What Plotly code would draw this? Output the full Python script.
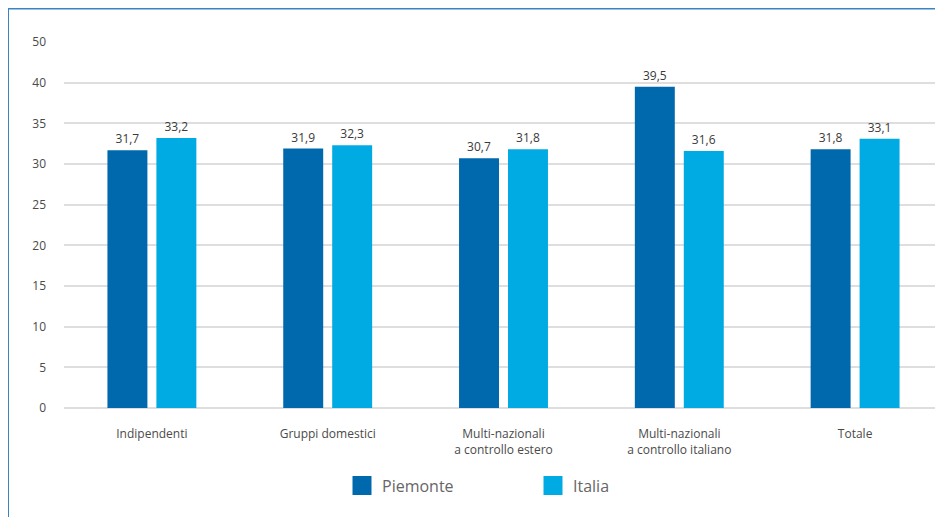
import plotly.graph_objects as go

categories = ["Indipendenti", "Gruppi domestici", "Multi-nazionali<br>a controllo estero",
              "Multi-nazionali<br>a controllo italiano", "Totale"]
piemonte = [31.7, 31.9, 30.7, 39.5, 31.8]
italia = [33.2, 32.3, 31.8, 31.6, 33.1]
series_names = ["Piemonte", "Italia"]
series_colors = ["#0068AC", "#00ABE3"]
y_tickvals = [0, 5, 10, 15, 20, 25, 30, 35, 40, 45]
y_ticktext = ["0", "5", "10", "15", "20", "25", "30", "35", "40", "50"]

FONT = "Open Sans"
# page has an 8px body margin: figure occupies page x 8..943, y 8..517
W, H = 935, 509
L, R, T, B = 56, 0, 34, 109
PW, PH = W - L - R, H - T - B

fig = go.Figure()
for name, vals, col in zip(series_names, [piemonte, italia], series_colors):
    fig.add_trace(go.Bar(
        x=categories, y=vals, name=name, marker=dict(color=col, line=dict(width=0)),
        text=vals, texttemplate="%{y:.1f}", textposition="outside",
        textfont=dict(family=FONT, size=12, color="#3a3a3a"),
        cliponaxis=False, showlegend=False, hoverinfo="skip"))
# legend entries (swatches only)
for name, col in zip(series_names, series_colors):
    fig.add_trace(go.Scatter(
        x=[None], y=[None], mode="markers", name=name,
        marker=dict(symbol="square", size=16, color=col, line=dict(color=col, width=3)),
        showlegend=True))

def px_x(p):
    return (p - L) / PW

def px_y(p):
    return (H - B - p) / PH

shapes = [
    dict(type="line", xref="paper", yref="paper", x0=px_x(0), x1=px_x(960), y0=px_y(0.5), y1=px_y(0.5),
         line=dict(color="#3A83C4", width=2)),
    dict(type="line", xref="paper", yref="paper", x0=px_x(0), x1=px_x(0), y0=px_y(0), y1=px_y(540),
         line=dict(color="#3A83C4", width=2)),
]

fig.update_layout(
    width=W, height=H,
    margin=dict(l=L, r=R, t=T, b=B),
    paper_bgcolor="white", plot_bgcolor="white",
    separators=",.",
    barmode="group", bargap=0.443, bargroupgap=0.184,
    font=dict(family=FONT, size=12, color="#4a4a4a"),
    shapes=shapes,
    legend=dict(orientation="h", xref="container", yref="container",
                x=334 / W, xanchor="left", y=(H - 477.5) / H, yanchor="middle",
                font=dict(family=FONT, size=16, color="#666666"),
                entrywidth=146, itemwidth=30, bgcolor="rgba(0,0,0,0)"),
    xaxis=dict(showgrid=False, showline=False, zeroline=False, ticks="",
               tickfont=dict(family=FONT, size=12, color="#4a4a4a"), ticklabelstandoff=17,
               fixedrange=True),
    yaxis=dict(range=[0, 45], tickvals=y_tickvals, ticktext=y_ticktext,
               showgrid=True, gridcolor="#DEDEDE", gridwidth=1.5,
               zeroline=True, zerolinecolor="#DEDEDE", zerolinewidth=2,
               showline=False, ticks="",
               tickfont=dict(family=FONT, size=12, color="#4a4a4a"), ticklabelstandoff=17,
               fixedrange=True),
)

fig.write_html("out.html", config={"displayModeBar": False})
